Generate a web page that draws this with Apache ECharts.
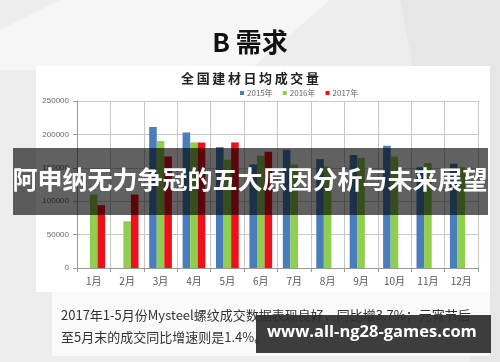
<!DOCTYPE html>
<html><head><meta charset="utf-8">
<script src="https://cdn.jsdelivr.net/npm/echarts@6/dist/echarts.min.js"></script>
<style>html,body{margin:0;padding:0;background:#efefef}#c{width:500px;height:362px}</style>
</head><body><div id="c"></div>
<script>
const categories = ['1月','2月','3月','4月','5月','6月','7月','8月','9月','10月','11月','12月'];
const s2015 = [null, null, 211000, 203000, 181000, 155000, 177000, 163000, 169000, 183000, 151000, 156000];
const s2016 = [110000, 70000, 190000, 188000, 162000, 168000, 155000, 152000, 165000, 167000, 157000, 151000];
const s2017 = [94000, 110000, 167000, 188000, 188000, 174000, null, null, null, null, null, null];
const seriesNames = ['2015年','2016年','2017年'];
const yTicks = [0, 50000, 100000, 150000, 200000, 250000];

const chart = echarts.init(document.getElementById('c'), null, {renderer:'canvas'});
const cjk = '"Noto Sans CJK SC", sans-serif';
chart.setOption({
  backgroundColor: '#efefef',
  animation: false,
  title: {
    text: '全\u2009国\u2009建\u2009材\u2009日\u2009均\u2009成\u2009交\u2009量',
    left: 'center', top: 72, padding: 0,
    textStyle: {fontFamily: cjk, fontSize: 13, fontWeight: 'bold', color: '#222'}
  },
  legend: {
    data: seriesNames, left: 240, top: 89, padding: 0,
    icon: 'rect', itemWidth: 4, itemHeight: 4, itemGap: 10,
    textStyle: {fontFamily: cjk, fontSize: 8, color: '#666', padding: [0,0,0,-2]}
  },
  grid: {left: 77, right: 22, top: 101, bottom: 94, containLabel: false},
  xAxis: {
    type: 'category', data: categories,
    axisLine: {lineStyle: {color: '#999'}},
    axisTick: {show: true, length: 4, lineStyle: {color: '#999'}},
    axisLabel: {fontFamily: cjk, fontSize: 10, color: '#555', margin: 8},
    splitLine: {show: true, lineStyle: {color: '#c8c8c8', width: 1}}
  },
  yAxis: {
    type: 'value', min: 0, max: 250000, interval: 50000,
    axisLine: {show: true, lineStyle: {color: '#999'}},
    axisTick: {show: true, length: 4, lineStyle: {color: '#999'}},
    axisLabel: {fontFamily: 'Liberation Sans, sans-serif', fontSize: 8, color: '#666', margin: 8,
      formatter: v => yTicks.includes(v) ? String(v) : ''},
    splitLine: {show: true, lineStyle: {color: '#c8c8c8', width: 1}}
  },
  series: [
    {name: seriesNames[0], type: 'bar', data: s2015, barGap: '0%', barCategoryGap: '32%', itemStyle: {color: '#4a7ebb'}},
    {name: seriesNames[1], type: 'bar', data: s2016, barGap: '0%', barCategoryGap: '32%', itemStyle: {color: '#8fce4f'}},
    {name: seriesNames[2], type: 'bar', data: s2017, barGap: '0%', barCategoryGap: '32%', itemStyle: {color: '#f0101c'}}
  ],
  graphic: [
    {type: 'polygon', z: -20, silent: true, shape: {points: [[0,0],[500,0],[500,362],[0,362]]}, style: {fill: '#ededed'}},
    {type: 'polygon', z: -19, silent: true, shape: {points: [[60,0],[330,0],[250,70],[0,70],[0,30]]}, style: {fill: '#f6f6f6'}},
    {type: 'polygon', z: -19, silent: true, shape: {points: [[400,0],[500,0],[500,362],[470,362]]}, style: {fill: '#e6e6e6'}},
    {type: 'rect', z: -18, silent: true, shape: {x: 36, y: 66, width: 454, height: 226}, style: {fill: '#ffffff'}},
    {type: 'rect', z: -18, silent: true, shape: {x: 52, y: 292, width: 438, height: 64}, style: {fill: '#fafafa'}},
    {type: 'text', z: 50, left: 'center', top: 29, style: {text: 'B 需求', font: 'bold 26px "Noto Sans CJK SC", sans-serif', fill: '#111'}},
    {type: 'text', z: 50, left: 61, top: 309, style: {text: '2017年1-5月份Mysteel螺纹成交数据表现良好，同比增3.7%；元宵节后', font: '13px "Noto Sans CJK SC", sans-serif', fill: '#333'}},
    {type: 'text', z: 50, left: 61, top: 331, style: {text: '至5月末的成交同比增速则是1.4%。', font: '13px "Noto Sans CJK SC", sans-serif', fill: '#333'}},
    {type: 'rect', z: 100, silent: true, shape: {x: 13, y: 148, width: 475, height: 67}, style: {fill: 'rgba(0,0,0,0.62)'}},
    {type: 'text', z: 101, left: 'center', top: 167, style: {text: '阿申纳无力争冠的五大原因分析与未来展望', font: 'bold 25px "Noto Sans CJK SC", sans-serif', fill: '#ffffff'}},
    {type: 'rect', z: 100, silent: true, shape: {x: 256, y: 315, width: 235, height: 38}, style: {fill: 'rgba(45,45,45,0.92)'}},
    {type: 'text', z: 101, left: 267, top: 324, style: {text: 'www.all-ng28-games.com', font: 'bold 16.5px "Open Sans", sans-serif', fill: '#ffffff'}}
  ]
});
</script></body></html>
